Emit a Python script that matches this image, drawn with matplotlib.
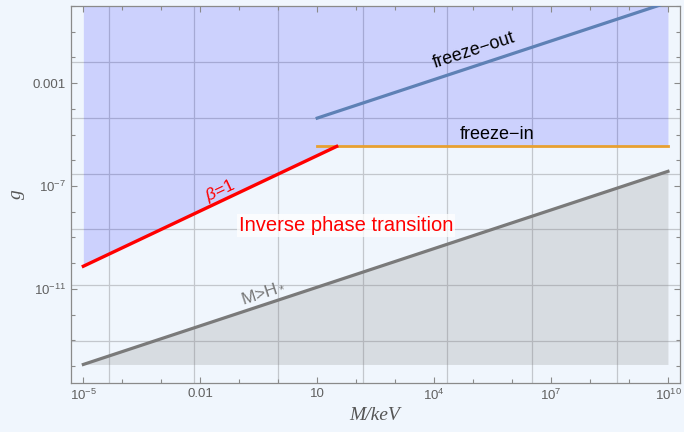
import numpy as np
import matplotlib
matplotlib.use("Agg")
import matplotlib.pyplot as plt
from matplotlib.ticker import FixedLocator, FixedFormatter, NullFormatter

plt.rcParams['font.family'] = ['Liberation Sans', 'DejaVu Sans']
plt.rcParams['mathtext.fontset'] = 'custom'
plt.rcParams['mathtext.rm'] = 'Liberation Sans'
plt.rcParams['mathtext.it'] = 'Liberation Sans:italic'
plt.rcParams['mathtext.bf'] = 'Liberation Sans:bold'

# values (log-log)
mass_ends = [1e-5, 1e10]
horizon_g = [10**-13.94, 10**-6.43]          # M > H_* boundary
beta_M = [1e-5, 10**1.5]
beta_g = [10**-10.12, 10**-5.46]             # beta = 1 line
freeze_in_M = [10, 1e10]
freeze_in_g = [10**-5.46, 10**-5.46]
freeze_out_M = [10, 1e10]
freeze_out_g = [10**-4.36, 10**0.14]
blue_M = [1e-5, 10**1.5, 1e10]
blue_low = [10**-10.12, 10**-5.46, 10**-5.46]
g_top = 1.0

x_major = [1e-5, 1e-2, 1e1, 1e4, 1e7, 1e10]
x_labels = [r'$10^{-5}$', '0.01', '10', r'$10^{4}$', r'$10^{7}$', r'$10^{10}$']
y_major = [1e-3, 1e-7, 1e-11]
y_labels = ['0.001', r'$10^{-7}$', r'$10^{-11}$']
x_grid = np.exp([-10, -5, 0, 5, 10, 15, 20])
y_grid = np.exp([-5, -10, -15, -20, -25, -30])

bg = '#f0f6fd'
fig = plt.figure(figsize=(6.84, 4.32), dpi=100, facecolor=bg)
ax = fig.add_axes([0.1042, 0.1141, 0.8900, 0.8720], facecolor=bg)
ax.set_xscale('log')
ax.set_yscale('log')
ax.set_xlim(10**-5.31, 10**10.31)
ax.set_ylim(10**-14.65, 10**0.0)

for gx in x_grid:
    ax.axvline(gx, color='#c3c7cd', lw=0.9, zorder=0.5)
for gy in y_grid:
    ax.axhline(gy, color='#c3c7cd', lw=0.9, zorder=0.5)

ax.fill_between(blue_M, blue_low, g_top, color='blue', alpha=0.15, lw=0, zorder=1)
ax.fill_between(mass_ends, horizon_g, horizon_g[0], color='#808080', alpha=0.22,
                lw=0, zorder=1)

ax.plot(mass_ends, horizon_g, color='#7a7a7a', lw=2.3, zorder=3)
ax.plot(freeze_out_M, freeze_out_g, color='#5e81b5', lw=2.3, zorder=3)
ax.plot(freeze_in_M, freeze_in_g, color='#e8a030', lw=2.0, zorder=3)
ax.plot(beta_M, beta_g, color='#ff0000', lw=2.4, zorder=4)

ax.text(10**1.74, 10**-8.53, 'Inverse phase transition', color='#ff0000',
        fontsize=14.5, ha='center', va='center', zorder=5,
        bbox=dict(facecolor='white', edgecolor='none', alpha=0.75, pad=1.5))
ax.text(10**-1.5, 10**-7.2, r'$\beta$=1', color='#ff0000', fontsize=12.5,
        rotation=25, ha='center', va='center', zorder=5)
ax.text(10**5.03, 10**-1.73, 'freeze\u2212out', color='black', fontsize=13,
        rotation=18, ha='center', va='center', zorder=5)
ax.text(10**5.61, 10**-5.0, 'freeze\u2212in', color='black', fontsize=13,
        ha='center', va='center', zorder=5)
ax.text(10**-0.39, 10**-11.13, r'M>H$_*$', color='#777777', fontsize=12.5,
        rotation=18, ha='center', va='center', zorder=5)

ax.xaxis.set_major_locator(FixedLocator(x_major))
ax.xaxis.set_major_formatter(FixedFormatter(x_labels))
ax.xaxis.set_minor_locator(FixedLocator([10.0**k for k in range(-5, 11) if k % 3 != 1]))
ax.xaxis.set_minor_formatter(NullFormatter())
ax.yaxis.set_major_locator(FixedLocator(y_major))
ax.yaxis.set_major_formatter(FixedFormatter(y_labels))
ax.yaxis.set_minor_locator(FixedLocator([10.0**k for k in range(-14, 1) if k % 4 != 1]))
ax.yaxis.set_minor_formatter(NullFormatter())

ax.tick_params(which='both', direction='in', top=True, right=True,
               color='#8a8a8a', labelcolor='#606060', labelsize=9.5, width=0.8)
ax.tick_params(which='major', length=4.5, pad=4)
ax.tick_params(which='minor', length=2.6)
for s in ax.spines.values():
    s.set_color('#8a8a8a')
    s.set_linewidth(0.9)

fig.text(16.5 / 684, 1 - 194 / 432, 'g', rotation=90, ha='center', va='center',
         fontsize=14, color='#555555', family='Liberation Serif', style='italic')
fig.text(375 / 684, 1 - 416 / 432, 'M/keV', ha='center', va='center',
         fontsize=14, color='#555555', family='Liberation Serif', style='italic')

fig.savefig('out.png', dpi=100, facecolor=bg)
